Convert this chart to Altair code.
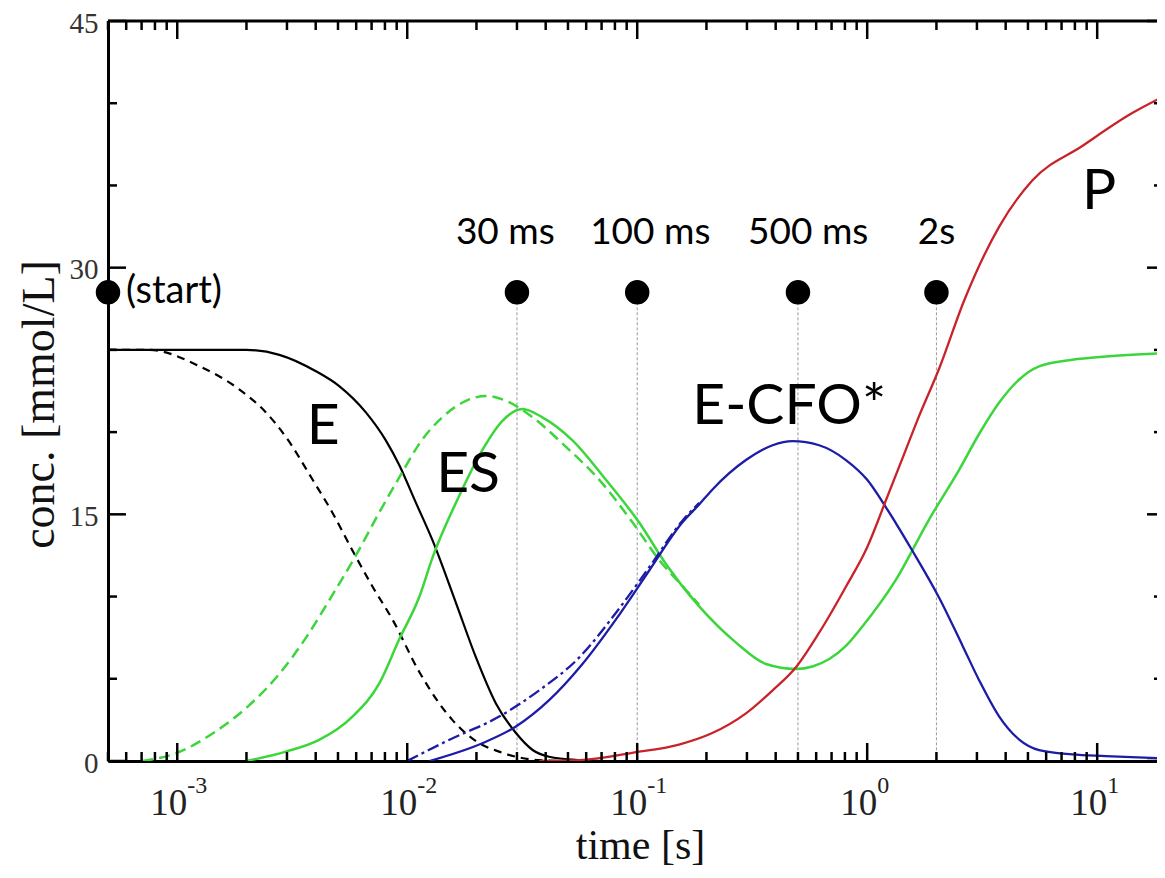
import altair as alt
import pandas as pd

# ---------------- data ----------------
# E (solid black)
E_t = [5e-4, 2.0e-3, 2.78e-3, 4.01e-3, 5.06e-3, 6.61e-3, 8.07e-3, 9.23e-3, 1.083e-2, 1.29e-2,
       1.63e-2, 1.99e-2, 2.43e-2, 2.97e-2, 3.51e-2, 4.14e-2, 5.6e-2, 7.0e-2, 1.3]
E_v = [25, 25, 24.7, 23.7, 22.8, 21.2, 19.5, 18.0, 15.8, 13.4,
       9.6, 6.3, 3.5, 1.7, 0.67, 0.26, 0.05, 0, 0]
# E (dashed black)
E2_t = [5e-4, 7.55e-4, 1.25e-3, 1.86e-3, 2.43e-3, 2.97e-3, 3.88e-3, 4.73e-3, 5.78e-3, 7.07e-3,
        8.63e-3, 1.13e-2, 1.57e-2, 2.06e-2, 2.51e-2, 2.97e-2, 3.75e-2, 5.0e-2]
E2_v = [25, 25.0, 24.0, 22.6, 21.2, 19.7, 17.1, 15.1, 12.8, 10.6,
        8.6, 5.4, 2.5, 1.08, 0.57, 0.26, 0.05, 0]
# ES (dashed green)
ES2_t = [7.05e-4, 9.87e-4, 1.47e-3, 2.06e-3, 2.78e-3, 3.63e-3, 4.73e-3, 5.98e-3, 7.55e-3, 9.55e-3,
         1.13e-2, 1.42e-2, 1.80e-2, 2.20e-2, 2.69e-2, 3.51e-2, 4.90e-2, 6.84e-2, 9.55e-2, 0.125,
         0.163, 0.186]
ES2_v = [0, 0.47, 1.8, 3.4, 5.3, 7.5, 10.1, 12.5, 15.1, 17.6,
         19.3, 20.9, 21.9, 22.2, 21.9, 20.9, 19.1, 17.1, 14.5, 12.2,
         10.4, 9.5]
# ES (solid green)
ES_t = [2.0e-3, 2.97e-3, 4.14e-3, 5.78e-3, 7.55e-3, 9.23e-3, 1.13e-2, 1.29e-2, 1.68e-2, 2.12e-2,
        2.60e-2, 3.17e-2, 3.87e-2, 5.23e-2, 7.31e-2, 0.102, 0.133, 0.186, 0.269, 0.363,
        0.490, 0.578, 0.684, 0.808, 0.955, 1.33, 1.86, 2.51, 3.07, 3.75, 4.58, 5.59,
        7.79, 10.9, 20]
ES_v = [0, 0.57, 1.28, 2.7, 4.7, 7.4, 10.0, 12.4, 16.1, 18.9,
        20.7, 21.4, 20.9, 19.5, 17.1, 14.5, 12.0, 9.4, 7.2, 5.9,
        5.6, 5.75, 6.2, 7.0, 8.2, 11.0, 14.7, 17.7, 19.9, 21.8, 23.2, 24.0,
        24.4, 24.6, 24.8]
# E-CFO* (dash-dot blue)
CFO2_t = [1.0e-2, 1.52e-2, 2.51e-2, 3.75e-2, 5.6e-2, 8.07e-2, 0.113, 0.157, 0.186]
CFO2_v = [0, 1.28, 2.7, 4.3, 6.3, 9.0, 11.8, 14.6, 15.7]
# E-CFO* (solid blue)
CFO_t = [1.25e-2, 2.12e-2, 2.97e-2, 4.14e-2, 5.78e-2, 8.07e-2, 0.113, 0.157, 0.186, 0.212,
         0.297, 0.388, 0.473, 0.618, 0.808, 1.0, 1.21, 1.57, 2.06, 2.60,
         3.07, 3.75, 4.58, 5.59, 7.79, 10.9, 20]
CFO_v = [0, 1.08, 2.1, 3.7, 5.9, 8.6, 11.6, 14.5, 15.6, 16.5,
         18.3, 19.2, 19.45, 19.2, 18.3, 17.1, 15.4, 12.8, 9.9, 7.0,
         4.9, 2.7, 1.3, 0.66, 0.4, 0.3, 0.15]
# P (solid red)
P_t = [3.75e-2, 5.6e-2, 9.51e-2, 0.152, 0.212, 0.297, 0.388, 0.490, 0.618,
       0.808, 1.0, 1.21, 1.47, 1.65, 2.06, 2.64, 3.75, 5.22, 8.61, 14.2, 20]
P_v = [0, 0.05, 0.5, 1.0, 1.7, 2.9, 4.3, 5.7, 7.8,
       10.6, 13.0, 15.9, 18.9, 20.7, 23.9, 28.0, 32.5, 35.3, 37.4, 39.4, 40.5]

# time markers
mark_t = [5e-4, 0.03, 0.1, 0.5, 2.0]
mark_v = [28.5, 28.5, 28.5, 28.5, 28.5]
guide_t = [0.03, 0.1, 0.5, 2.0]
mlabel_text = ["30 ms", "100 ms", "500 ms", "2s"]
mlabel_t = [0.0267, 0.114, 0.554, 2.0]
mlabel_v = [32.1, 32.1, 32.1, 32.1]

# species labels
sp_text = ["E", "ES", "E-CFO*", "P"]
sp_t = [4.31e-3, 0.0184, 0.458, 10.2]
sp_v = [20.3, 17.4, 21.5, 34.6]

# axis ticks / labels
decades = [1e-3, 1e-2, 1e-1, 1.0, 10.0]
exponents = ["-3", "-2", "-1", "0", "1"]
minor_x = [m * 10.0 ** k for k in range(-4, 2) for m in range(2, 10)
           if 5e-4 <= m * 10.0 ** k <= 18]
y_major = [0, 15, 30, 45]
y_minor = [5, 10, 20, 25, 35, 40]

# ---------------- chart ----------------
W, H = 1049, 740
SERIF = "Liberation Serif"
SANS = "Lato"
GREEN = "#3cd63c"
BLUE = "#1c1ca6"
RED = "#c8232a"

xs = alt.Scale(type="log", domain=[5e-4, 18.2], nice=False)
ys = alt.Scale(domain=[0, 45], nice=False, zero=False)
X = alt.X("t:Q", scale=xs, title="time [s]", axis=alt.Axis(titleX=532))
Y = alt.Y("v:Q", scale=ys, title="conc. [mmol/L]",
          axis=alt.Axis(values=y_major, titleY=383, labelOffset=2))


def series(t, v, color, dash=None, width=2.3):
    df = pd.DataFrame({"t": t, "v": v})
    kw = dict(color=color, strokeWidth=width, clip=True, interpolate="monotone")
    if dash:
        kw["strokeDash"] = dash
    return alt.Chart(df).mark_line(**kw).encode(x=X, y=Y)


one = pd.DataFrame({"a": [0]})
top_spine = alt.Chart(one).mark_rule(color="black", strokeWidth=3).encode(
    x=alt.value(0), x2=alt.value(W), y=alt.value(0))


def xticks(vals, length, top):
    df = pd.DataFrame({"t": vals})
    if top:
        yy = dict(y=alt.value(0), y2=alt.value(length))
    else:
        yy = dict(y=alt.value(H), y2=alt.value(H - length))
    return alt.Chart(df).mark_rule(color="black", strokeWidth=2.5).encode(x=X, **yy)


def yticks(vals, x0, x1):
    df = pd.DataFrame({"v": vals})
    return alt.Chart(df).mark_rule(color="black", strokeWidth=2.5).encode(
        y=Y, x=alt.value(x0), x2=alt.value(x1))


ticks = [
    xticks(decades, 18, False), xticks(minor_x, 9, False),
    xticks(decades, 18, True), xticks(minor_x, 9, True),
    yticks(y_major, 0, 18), yticks(y_minor, 0, 9),
    yticks(y_major, W - 10, W), yticks(y_minor, W - 3, W),
]

dec_df = pd.DataFrame({"t": decades, "e": exponents})
dec_lab = alt.Chart(dec_df).mark_text(
    font=SERIF, fontSize=37, align="right", baseline="alphabetic", dx=10, color="#222"
).encode(x=X, y=alt.value(H + 54), text=alt.value("10"))
exp_lab = alt.Chart(dec_df).mark_text(
    font=SERIF, fontSize=24, align="left", baseline="alphabetic", dx=10, color="#222"
).encode(x=X, y=alt.value(H + 32), text="e:N")

guides = alt.Chart(pd.DataFrame({"t": guide_t, "v": [28.5] * 4, "v0": [0] * 4})).mark_rule(
    color="#9a9a9a", strokeWidth=1, strokeDash=[3, 2]
).encode(x=X, y=Y, y2="v0:Q")

dots = alt.Chart(pd.DataFrame({"t": mark_t, "v": mark_v})).mark_circle(
    size=600, color="black", opacity=1
).encode(x=X, y=Y)

mlabels = alt.Chart(pd.DataFrame({"t": mlabel_t, "v": mlabel_v, "s": mlabel_text})).mark_text(
    font=SANS, fontSize=37, align="center", baseline="middle", color="black"
).encode(x=X, y=Y, text="s:N")

start_lab = alt.Chart(pd.DataFrame({"t": [5e-4], "v": [28.5], "s": ["(start)"]})).mark_text(
    font=SANS, fontSize=38, align="left", baseline="middle", dx=18, color="black"
).encode(x=X, y=Y, text="s:N")

splabels = alt.Chart(pd.DataFrame({"t": sp_t, "v": sp_v, "s": sp_text})).mark_text(
    font=SANS, fontSize=57, align="center", baseline="middle", color="black"
).encode(x=X, y=Y, text="s:N")

lines = [
    series(E_t, E_v, "black", width=2.2),
    series(E2_t, E2_v, "black", dash=[8, 6], width=2.2),
    series(ES2_t, ES2_v, GREEN, dash=[11, 6], width=2.5),
    series(ES_t, ES_v, GREEN, width=2.5),
    series(CFO2_t, CFO2_v, BLUE, dash=[12, 4, 3, 4], width=2.3),
    series(CFO_t, CFO_v, BLUE, width=2.3),
    series(P_t, P_v, RED, width=2.3),
]

chart = alt.layer(
    guides, *lines, top_spine, *ticks, dec_lab, exp_lab, dots, mlabels, start_lab, splabels
).properties(
    width=W, height=H,
    autosize=alt.AutoSizeParams(type="none"),
    padding={"left": 100, "top": 13, "right": 0, "bottom": 109},
).configure_view(stroke=None).configure(background="white").configure_axis(
    grid=False, ticks=False, domain=True, domainWidth=3, domainColor="black",
    labelFont=SERIF, labelFontSize=29, labelColor="#333", labelPadding=10,
    titleFont=SERIF, titleFontWeight="normal", titleColor="#111",
).configure_axisX(
    labels=False, titleFontSize=42, titlePadding=64,
).configure_axisY(
    titleFontSize=46, titlePadding=6,
)

chart.save("out.html", embed_options={"renderer": "svg", "actions": False})
